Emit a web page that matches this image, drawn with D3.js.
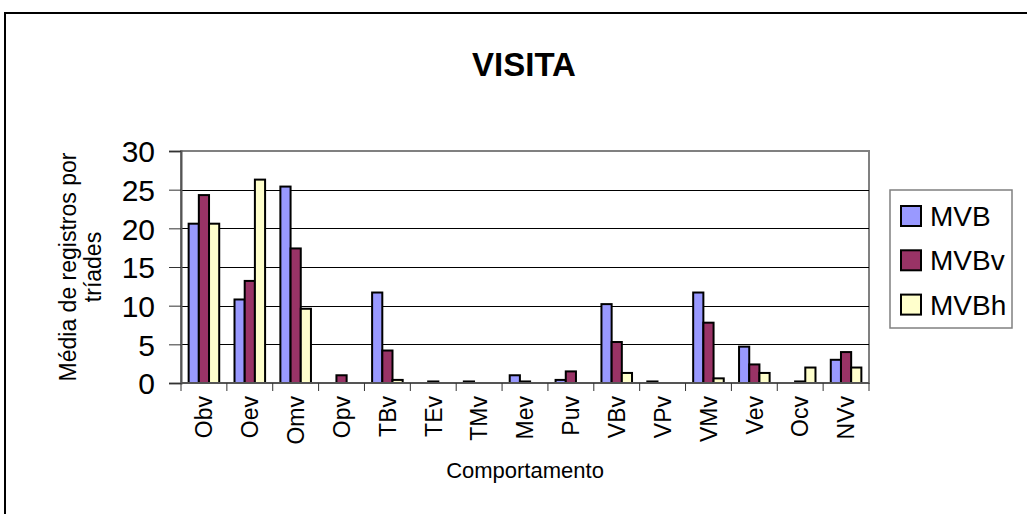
<!DOCTYPE html>
<html>
<head>
<meta charset="utf-8">
<script src="https://cdn.jsdelivr.net/npm/d3@7"></script>
<style>
  body { margin: 0; background: #fff; }
  svg text { font-family: Arial, "Liberation Sans", sans-serif; fill: #000; }
</style>
</head>
<body>
<div id="chart"></div>
<script>
// categories and series values
var categories = ["Obv","Oev","Omv","Opv","TBv","TEv","TMv","Mev","Puv","VBv","VPv","VMv","Vev","Ocv","NVv"];
var seriesNames = ["MVB","MVBv","MVBh"];
var mvb  = [20.6, 10.8, 25.4, 0,   11.7, 0,   0.2, 1.0, 0.4, 10.2, 0.2, 11.7, 4.7, 0,   3.0];
var mvbv = [24.3, 13.2, 17.4, 1.0, 4.2,  0.2, 0,   0.2, 1.5, 5.3,  0,   7.8,  2.4, 0.2, 4.0];
var mvbh = [20.6, 26.3, 9.6,  0,   0.4,  0,   0,   0,   0,   1.3,  0,   0.6,  1.3, 2.0, 2.0];
var yTicks = [0, 5, 10, 15, 20, 25, 30];
var colors = ["#9999ff", "#993366", "#ffffcc"];

var W = 1027, H = 514;
var plot = {left: 181, right: 869, top: 151, bottom: 383};

var svg = d3.select("#chart").append("svg")
    .attr("width", W)
    .attr("height", H);

// outer chart frame (runs off the right and bottom edges)
svg.append("rect")
    .attr("x", 5).attr("y", 13)
    .attr("width", 1040).attr("height", 520)
    .attr("fill", "#fff")
    .attr("stroke", "#000")
    .attr("stroke-width", 2);

// title
svg.append("text")
    .attr("x", 524).attr("y", 76)
    .attr("text-anchor", "middle")
    .style("font-size", "33px")
    .style("font-weight", "bold")
    .text("VISITA");

var x0 = d3.scaleBand()
    .domain(categories)
    .range([plot.left, plot.right])
    .paddingInner(1/3)
    .paddingOuter(1/6);

var x1 = d3.scaleBand()
    .domain(seriesNames)
    .range([0, x0.bandwidth()]);

var y = d3.scaleLinear()
    .domain([0, 30])
    .range([plot.bottom, plot.top]);

// plot area border
svg.append("rect")
    .attr("x", plot.left).attr("y", plot.top)
    .attr("width", plot.right - plot.left)
    .attr("height", plot.bottom - plot.top)
    .attr("fill", "#fff")
    .attr("stroke", "#808080")
    .attr("stroke-width", 2);

// gridlines
svg.append("g")
  .selectAll("line")
  .data(yTicks.filter(function(d){ return d > 0 && d < 30; }))
  .enter().append("line")
    .attr("x1", plot.left).attr("x2", plot.right)
    .attr("y1", function(d){ return Math.round(y(d)) + 0.5; })
    .attr("y2", function(d){ return Math.round(y(d)) + 0.5; })
    .attr("stroke", "#000")
    .attr("stroke-width", 1);

// bars
var table = categories.map(function(c, i) {
  return {cat: c, vals: [mvb[i], mvbv[i], mvbh[i]]};
});

var groups = svg.append("g")
  .selectAll("g")
  .data(table)
  .enter().append("g")
    .attr("transform", function(d){ return "translate(" + x0(d.cat) + ",0)"; });

groups.selectAll("rect")
  .data(function(d){
    return d.vals.map(function(v, k){ return {name: seriesNames[k], k: k, v: v}; })
      .filter(function(e){ return e.v > 0; });
  })
  .enter().append("rect")
    .attr("x", function(d){ return x1(d.name); })
    .attr("y", function(d){ return y(d.v); })
    .attr("width", x1.bandwidth())
    .attr("height", function(d){ return y(0) - y(d.v); })
    .attr("fill", function(d){ return colors[d.k]; })
    .attr("stroke", "#000")
    .attr("stroke-width", 2);

// y axis
var yAxis = svg.append("g")
    .attr("transform", "translate(" + plot.left + ",0)")
    .call(d3.axisLeft(y).tickValues(yTicks).tickSize(12).tickPadding(14));
yAxis.select(".domain").attr("stroke", "#555").attr("stroke-width", 2);
yAxis.selectAll(".tick line").attr("stroke", "#333");
yAxis.selectAll(".tick text")
    .style("font-size", "30px")
    .attr("dy", "0.36em");

// x axis: ticks between categories
var bounds = d3.range(categories.length + 1).map(function(i){ return plot.left + i * x0.step(); });
svg.append("line")
    .attr("x1", plot.left).attr("x2", plot.right)
    .attr("y1", plot.bottom).attr("y2", plot.bottom)
    .attr("stroke", "#555").attr("stroke-width", 2);
svg.append("g")
  .selectAll("line")
  .data(bounds)
  .enter().append("line")
    .attr("x1", function(d){ return d; }).attr("x2", function(d){ return d; })
    .attr("y1", plot.bottom).attr("y2", plot.bottom + 8)
    .attr("stroke", "#333");

svg.append("g")
  .selectAll("text")
  .data(categories)
  .enter().append("text")
    .attr("transform", function(d){
      return "translate(" + (x0(d) + x0.bandwidth() / 2) + "," + (plot.bottom + 13) + ") rotate(-90)";
    })
    .attr("text-anchor", "end")
    .attr("dy", "0.36em")
    .style("font-size", "23px")
    .text(function(d){ return d; });

// axis titles
svg.append("text")
    .attr("x", 525).attr("y", 478)
    .attr("text-anchor", "middle")
    .style("font-size", "22px")
    .text("Comportamento");

var yTitle = svg.append("text")
    .attr("transform", "translate(76," + ((plot.top + plot.bottom) / 2) + ") rotate(-90)")
    .attr("text-anchor", "middle")
    .style("font-size", "23px");
yTitle.append("tspan").attr("x", 0).attr("dy", 0).text("Média de registros por");
yTitle.append("tspan").attr("x", 0).attr("dy", "1.1em").text("tríades");

// legend
var legend = svg.append("g").attr("transform", "translate(890,190)");
legend.append("rect")
    .attr("width", 122).attr("height", 138)
    .attr("fill", "#fff")
    .attr("stroke", "#808080")
    .attr("stroke-width", 1.5);
var items = legend.selectAll("g.item")
  .data(seriesNames)
  .enter().append("g")
    .attr("class", "item")
    .attr("transform", function(d, i){ return "translate(11," + (16 + i * 44.3) + ")"; });
items.append("rect")
    .attr("width", 20).attr("height", 20)
    .attr("fill", function(d, i){ return colors[i]; })
    .attr("stroke", "#000")
    .attr("stroke-width", 2);
items.append("text")
    .attr("x", 29).attr("y", 20)
    .style("font-size", "28px")
    .text(function(d){ return d; });
</script>
</body>
</html>
